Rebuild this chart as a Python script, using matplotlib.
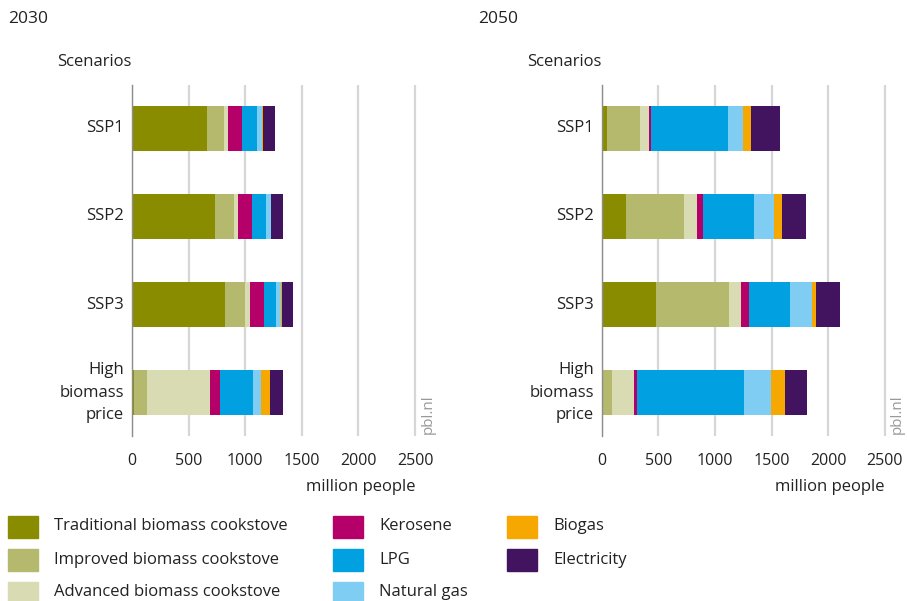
import matplotlib.pyplot as plt
import matplotlib.transforms as mtransforms
from matplotlib.patches import Rectangle

plt.rcParams['font.family'] = ['Open Sans', 'DejaVu Sans']

scenarios = ['SSP1', 'SSP2', 'SSP3', 'High\nbiomass\nprice']
categories = ['Traditional biomass cookstove', 'Improved biomass cookstove',
              'Advanced biomass cookstove', 'Kerosene', 'LPG', 'Natural gas',
              'Biogas', 'Electricity']
colors = ['#8a8c00', '#b4b96e', '#d9dbb2', '#b5006a', '#00a0e1', '#80cdf3',
          '#f7a800', '#42145f']

# million people per scenario (SSP1, SSP2, SSP3, High biomass price)
traditional_2030 = [661, 732, 820, 15]
improved_2030 = [150, 168, 176, 118]
advanced_2030 = [35, 35, 44, 556]
kerosene_2030 = [123, 123, 123, 88]
lpg_2030 = [132, 123, 106, 291]
natural_gas_2030 = [44, 44, 44, 73]
biogas_2030 = [9, 3, 9, 76]
electricity_2030 = [106, 106, 97, 115]

traditional_2050 = [47, 215, 479, 0]
improved_2050 = [291, 512, 644, 91]
advanced_2050 = [79, 115, 106, 194]
kerosene_2050 = [18, 53, 71, 26]
lpg_2050 = [679, 450, 362, 944]
natural_gas_2050 = [132, 176, 194, 238]
biogas_2050 = [71, 71, 35, 123]
electricity_2050 = [256, 212, 212, 194]

data_2030 = [traditional_2030, improved_2030, advanced_2030, kerosene_2030,
             lpg_2030, natural_gas_2030, biogas_2030, electricity_2030]
data_2050 = [traditional_2050, improved_2050, advanced_2050, kerosene_2050,
             lpg_2050, natural_gas_2050, biogas_2050, electricity_2050]

W, H = 907, 601
fig = plt.figure(figsize=(W / 100, H / 100), dpi=100)

XMAX = 2560
px_per_unit = 56.6 / 500
ax_w = XMAX * px_per_unit
ax_top, ax_bot = 85, 436


def draw_panel(x0, data):
    ax = fig.add_axes([x0 / W, 1 - ax_bot / H, ax_w / W, (ax_bot - ax_top) / H])
    ypos = list(range(len(scenarios)))
    left = [0] * len(scenarios)
    for vals, col, name in zip(data, colors, categories):
        ax.barh(ypos, vals, left=left, height=0.51, color=col, label=name, zorder=3)
        left = [a + b for a, b in zip(left, vals)]
    ax.set_xlim(0, XMAX)
    ax.set_ylim(3.49, -0.49)
    ax.set_xticks([0, 500, 1000, 1500, 2000, 2500])
    ax.set_yticks(ypos)
    ax.set_yticklabels([])
    # scenario labels, right aligned line by line
    trans = mtransforms.blended_transform_factory(ax.transAxes, ax.transData)
    off = mtransforms.offset_copy(trans, fig=fig, x=-8, y=0, units='dots')
    for y, lab in zip(ypos, scenarios):
        ax.text(0, y, lab, transform=off, ha='right', va='center',
                multialignment='right', fontsize=12, linespacing=1.55,
                color='#222222')
    ax.tick_params(axis='both', length=0)
    ax.tick_params(axis='x', pad=12, labelsize=11.5, labelcolor='#222222')
    ax.grid(axis='x', color='#d6d6d6', linewidth=1.6, zorder=0)
    for s in ['top', 'right', 'bottom']:
        ax.spines[s].set_visible(False)
    ax.spines['left'].set_color('#8c8c8c')
    ax.spines['left'].set_linewidth(1.0)
    ax.spines['left'].set_zorder(4)
    # labels around the panel
    fig.text(x0 / W, 1 - 62 / H, 'Scenarios', ha='right', va='center',
             fontsize=12, color='#222222')
    fig.text((x0 + 2500 * px_per_unit) / W, 1 - 487 / H, 'million people',
             ha='right', va='center', fontsize=12, color='#222222')
    fig.text((x0 + 2500 * px_per_unit + 13) / W, 1 - 414 / H, 'pbl.nl',
             rotation=90, ha='center', va='center', fontsize=11, color='#999999')
    return ax


draw_panel(132, data_2030)
draw_panel(601.7, data_2050)

fig.text(8 / W, 1 - 19 / H, '2030', ha='left', va='center', fontsize=12.5, color='#222222')
fig.text(478 / W, 1 - 19 / H, '2050', ha='left', va='center', fontsize=12.5, color='#222222')

# legend drawn as boxes in three columns
col_x = [8, 333, 507]
row_y = [526.5, 559.5, 592.5]
layout = [(0, 0), (0, 1), (0, 2), (1, 0), (1, 1), (1, 2), (2, 0), (2, 1)]
for (c, r), name, col in zip(layout, categories, colors):
    x, y = col_x[c], row_y[r]
    fig.patches.append(Rectangle((x / W, 1 - (y + 11) / H), 30 / W, 22 / H,
                                 transform=fig.transFigure, color=col, figure=fig))
    fig.text((x + 46) / W, 1 - y / H, name, ha='left', va='center',
             fontsize=12, color='#222222')

plt.savefig('out.png', dpi=100)
